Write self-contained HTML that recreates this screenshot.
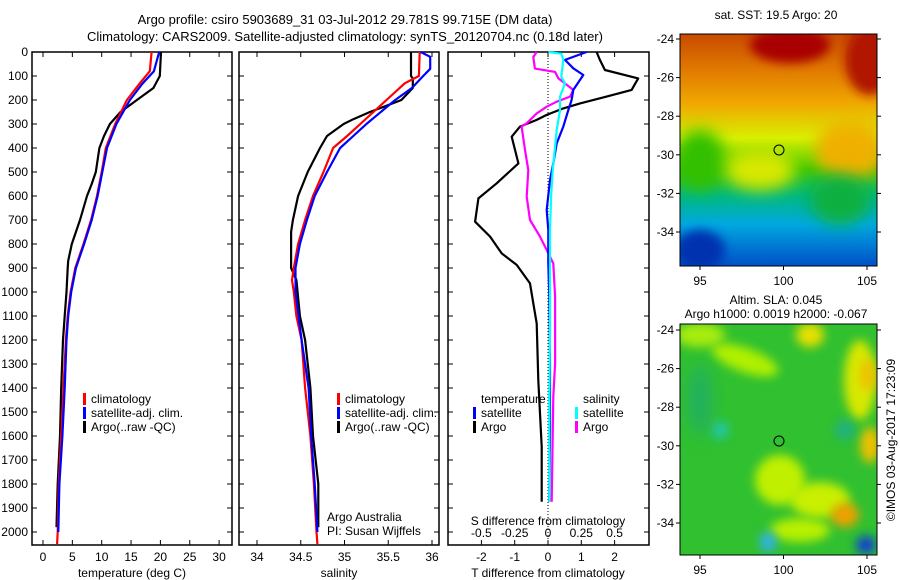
<!DOCTYPE html>
<html><head><meta charset="utf-8"><style>
body{margin:0;background:#fff}
svg{display:block;font-family:"Liberation Sans",sans-serif;font-size:12px}
</style></head><body>
<svg id="c" width="900" height="580" viewBox="0 0 900 580" xmlns="http://www.w3.org/2000/svg">
<defs>
<filter id="bl" x="-50%" y="-50%" width="200%" height="200%"><feGaussianBlur stdDeviation="8"/></filter>
<filter id="bl2" x="-50%" y="-50%" width="200%" height="200%"><feGaussianBlur stdDeviation="5"/></filter>
<clipPath id="m1c"><rect x="680" y="34" width="197" height="232"/></clipPath>
<clipPath id="m2c"><rect x="680" y="324" width="197" height="231"/></clipPath>
<linearGradient id="sstg" x1="0" y1="0" x2="0" y2="1">
<stop offset="0" stop-color="#c84a00"/><stop offset="0.15" stop-color="#e07800"/><stop offset="0.3" stop-color="#f0a800"/>
<stop offset="0.45" stop-color="#d8f000"/><stop offset="0.58" stop-color="#40c800"/><stop offset="0.7" stop-color="#00b880"/>
<stop offset="0.82" stop-color="#00a8e0"/><stop offset="1" stop-color="#0050c8"/></linearGradient>
</defs>
<text x="345" y="24" text-anchor="middle" font-size="13">Argo profile: csiro 5903689_31 03-Jul-2012 29.781S 99.715E (DM data)</text>
<text x="345" y="41" text-anchor="middle" font-size="13">Climatology: CARS2009. Satellite-adjusted climatology: synTS_20120704.nc (0.18d later)</text>

<g>
<g clip-path="url(#m1c)">
<rect x="680" y="34" width="197" height="232" fill="url(#sstg)"/>
<ellipse cx="790" cy="45" rx="40" ry="18" fill="#a80000" filter="url(#bl2)"/>
<ellipse cx="870" cy="60" rx="25" ry="35" fill="#b01800" filter="url(#bl2)"/>
<ellipse cx="850" cy="150" rx="35" ry="30" fill="#f0b000" filter="url(#bl)"/>
<ellipse cx="700" cy="160" rx="25" ry="30" fill="#30c000" filter="url(#bl)"/>
<ellipse cx="840" cy="200" rx="30" ry="25" fill="#10b040" filter="url(#bl)"/>
<ellipse cx="760" cy="170" rx="35" ry="20" fill="#d8e800" filter="url(#bl)"/>
<ellipse cx="700" cy="250" rx="25" ry="20" fill="#0030b0" filter="url(#bl2)"/>
</g>
<rect x="680" y="34" width="197" height="232" fill="none" stroke="#000"/>
<circle cx="779" cy="150" r="5" fill="none" stroke="#000"/>
<text x="776" y="19" text-anchor="middle">sat. SST: 19.5 Argo: 20</text>
</g>
<g>
<g clip-path="url(#m2c)">
<rect x="680" y="324" width="197" height="231" fill="#30c030"/>
<ellipse cx="700" cy="335" rx="25" ry="12" fill="#a8ec10" filter="url(#bl2)"/>
<ellipse cx="745" cy="360" rx="35" ry="12" fill="#b0f000" filter="url(#bl2)" transform="rotate(20 745 360)"/>
<ellipse cx="810" cy="335" rx="14" ry="12" fill="#e8e000" filter="url(#bl2)"/>
<ellipse cx="860" cy="380" rx="16" ry="40" fill="#d8e800" filter="url(#bl2)"/>
<ellipse cx="868" cy="375" rx="8" ry="16" fill="#f0c000" filter="url(#bl2)"/>
<ellipse cx="780" cy="480" rx="25" ry="25" fill="#c0f000" filter="url(#bl2)"/>
<ellipse cx="820" cy="500" rx="30" ry="18" fill="#c8f000" filter="url(#bl2)"/>
<ellipse cx="800" cy="530" rx="30" ry="12" fill="#b8f000" filter="url(#bl2)"/>
<ellipse cx="845" cy="515" rx="14" ry="12" fill="#f0a000" filter="url(#bl2)"/>
<ellipse cx="870" cy="445" rx="10" ry="18" fill="#f0c000" filter="url(#bl2)"/>
<ellipse cx="720" cy="430" rx="8" ry="9" fill="#20c8b0" filter="url(#bl2)"/>
<ellipse cx="845" cy="430" rx="10" ry="10" fill="#20b080" filter="url(#bl2)"/>
<ellipse cx="768" cy="542" rx="8" ry="10" fill="#30b0f0" filter="url(#bl2)"/>
<ellipse cx="866" cy="545" rx="10" ry="9" fill="#1040d0" filter="url(#bl2)"/>
<ellipse cx="700" cy="400" rx="12" ry="35" fill="#20b060" filter="url(#bl)"/>
</g>
<rect x="680" y="324" width="197" height="231" fill="none" stroke="#000"/>
<circle cx="779" cy="441" r="5" fill="none" stroke="#000"/>
<text x="776" y="304" text-anchor="middle">Altim. SLA: 0.045</text>
<text x="776" y="318" text-anchor="middle">Argo h1000: 0.0019 h2000: -0.067</text>
</g>
<text transform="translate(895,440) rotate(-90)" text-anchor="middle">©IMOS 03-Aug-2017 17:23:09</text>
</svg>
<script>
// ---- data ----
const depthTicks=[0,100,200,300,400,500,600,700,800,900,1000,1100,1200,1300,1400,1500,1600,1700,1800,1900,2000];
const tempTicks=[0,5,10,15,20,25,30];
const salTicks=[34,34.5,35,35.5,36];
const tdTicks=[-2,-1,0,1,2];
const sdTicks=[-0.5,-0.25,0,0.25,0.5];
const sdTickLabels=["-0.5","-0.25","0","0.25","0.5"];
const mapLatTicks=[-24,-26,-28,-30,-32,-34];
const mapLonTicks=[95,100,105];

const tClimD=[0,80,130,200,300,400,500,600,700,800,900,1000,1100,1200,1400,1600,1800,2000,2050];
const tClimV=[18.5,18.2,16.5,14.3,12.3,10.7,10.0,9.2,8.2,6.9,5.5,4.7,4.2,3.9,3.5,3.1,2.7,2.5,2.4];
const tSatD=[0,80,130,200,300,400,500,600,700,800,900,1000,1100,1200,1400,1600,1800,2000];
const tSatV=[19.8,18.9,17.0,14.8,12.5,10.9,10.1,9.3,8.3,7.0,5.6,4.8,4.3,4.0,3.7,3.3,2.8,2.6];
const tArgoD=[0,100,150,200,250,300,350,400,500,550,600,700,800,870,900,1000,1100,1200,1400,1600,1800,1980];
const tArgoV=[20.1,19.9,18.8,16.0,13.2,11.4,10.4,9.6,9.0,8.3,7.5,6.3,4.9,4.3,4.2,4.0,3.7,3.4,3.1,2.9,2.5,2.3];

const sClimD=[0,100,130,200,250,300,350,400,500,600,700,800,900,950,1000,1100,1200,1400,1600,1800,2000,2050];
const sClimV=[35.86,35.85,35.69,35.48,35.33,35.18,35.03,34.87,34.76,34.64,34.55,34.47,34.42,34.40,34.42,34.45,34.51,34.55,34.61,34.65,34.68,34.69];
const sSatD=[0,20,70,100,150,200,300,350,400,500,600,700,800,900,1000,1200,1400,1600,1800,2000];
const sSatV=[35.87,35.98,35.98,35.90,35.77,35.58,35.25,35.10,34.95,34.80,34.66,34.57,34.49,34.44,34.44,34.51,34.59,34.62,34.66,34.69];
const sArgoD=[0,100,110,150,200,250,280,300,350,400,500,600,700,750,900,950,1100,1200,1400,1600,1800,1980];
const sArgoV=[35.76,35.76,35.78,35.78,35.65,35.29,35.10,34.99,34.80,34.72,34.58,34.47,34.41,34.39,34.39,34.45,34.49,34.55,34.61,34.64,34.70,34.70];

const dTArgoD=[0,33,75,110,158,186,214,235,262,283,311,353,464,547,610,707,769,839,887,964,1047,1131,1367,1506,1644,1874];
const dTArgoV=[1.46,1.56,1.71,2.71,2.51,1.76,0.96,0.46,-0.04,-0.34,-0.84,-1.09,-0.89,-1.54,-2.09,-2.19,-1.74,-1.39,-0.94,-0.54,-0.44,-0.34,-0.29,-0.24,-0.19,-0.19];
const dTSatD=[0,33,68,96,158,200,242,311,381,464,533,658,742,881,1019,1297,1575,1874];
const dTSatV=[1.16,0.51,0.76,1.06,0.76,0.71,0.61,0.46,0.26,0.16,0.06,-0.04,0.01,0.01,0.04,0.06,0.06,0.04];
const dSSatD=[0,7,33,103,131,186,242,325,394,492,603,742,881,1158,1436,1874];
const dSSatV=[0.0025,0.1,0.115,0.10,0.128,0.09,0.09,0.065,0.053,0.035,0.023,0.015,0.015,0.015,0.01,0.01];
const dSArgoD=[0,21,69,83,110,158,186,207,228,256,297,311,408,492,603,700,769,825,881,1019,1297,1436,1874];
const dSArgoV=[-0.085,-0.11,-0.098,0.053,0.078,0.19,0.165,0.065,-0.01,-0.085,-0.16,-0.198,-0.173,-0.148,-0.16,-0.135,-0.06,-0.01,0.04,0.053,0.053,0.04,0.028];

// ---- axes ----
const NS="http://www.w3.org/2000/svg";
const svg=document.getElementById('c');
const yD=d=>52+d*0.24;
const xT=v=>43+v*5.87;
const xS=v=>257+(v-34)*87.5;
const xDT=v=>548+v*33.3;
const xDS=v=>548+v*133.2;
function el(tag,attrs,parent){const e=document.createElementNS(NS,tag);for(const k in attrs)e.setAttribute(k,attrs[k]);(parent||svg).appendChild(e);return e;}
function txt(x,y,s,anchor,parent){const t=el('text',{x:x,y:y,'text-anchor':anchor||'middle'},parent);t.textContent=s;return t;}

const panels=[{x0:32,x1:232,name:'temperature-panel'},{x0:239,x1:439,name:'salinity-panel'},{x0:448,x1:649,name:'difference-panel'}];
const pg=[];
panels.forEach(p=>{
  const g=el('g',{});
  
  
  el('rect',{x:p.x0,y:52,width:p.x1-p.x0,height:493,fill:'none',stroke:'#000','stroke-width':1.5},g);
  depthTicks.forEach(d=>{
    el('line',{x1:p.x0,x2:p.x0+5,y1:yD(d),y2:yD(d),stroke:'#000'},g);
    el('line',{x1:p.x1-5,x2:p.x1,y1:yD(d),y2:yD(d),stroke:'#000'},g);
  });
  pg.push(g);
});
const yl=el('g',{});


depthTicks.forEach(d=>{txt(28,yD(d)+4,String(d),'end',yl);});

function xticks(g,ticks,fx,labels,y){ticks.forEach((t,i)=>{
  el('line',{x1:fx(t),x2:fx(t),y1:545,y2:540,stroke:'#000'},g);
  el('line',{x1:fx(t),x2:fx(t),y1:52,y2:57,stroke:'#000'},g);
  txt(fx(t),y,labels?labels[i]:String(t),'middle',g);});}
xticks(pg[0],tempTicks,xT,null,561);
xticks(pg[1],salTicks,xS,null,561);
xticks(pg[2],tdTicks,xDT,null,561);
sdTicks.forEach((t,i)=>{txt(xDS(t),537,sdTickLabels[i],'middle',pg[2]);});
const a1=txt(132,577,'temperature (deg C)','middle',pg[0]);
const a2=txt(339,577,'salinity','middle',pg[1]);
const a3=txt(548,577,'T difference from climatology','middle',pg[2]);
const a4=txt(548,525,'S difference from climatology','middle',pg[2]);
el('line',{x1:548,x2:548,y1:52,y2:545,stroke:'#000','stroke-dasharray':'1,2'},pg[2]);

function line(g,D,V,fx,color,name){
  const pts=D.map((d,i)=>fx(V[i]).toFixed(1)+','+yD(d).toFixed(1)).join(' ');
  const pl=el('polyline',{points:pts,fill:'none',stroke:color,'stroke-width':2.2,'stroke-linejoin':'round'},g);
  
  
}
line(pg[0],tArgoD,tArgoV,xT,'#000','temp-argo-line');
line(pg[0],tClimD,tClimV,xT,'#f00','temp-climatology-line');
line(pg[0],tSatD,tSatV,xT,'#00f','temp-satellite-line');
line(pg[1],sArgoD,sArgoV,xS,'#000','sal-argo-line');
line(pg[1],sClimD,sClimV,xS,'#f00','sal-climatology-line');
line(pg[1],sSatD,sSatV,xS,'#00f','sal-satellite-line');
line(pg[2],dTArgoD,dTArgoV,xDT,'#000','tdiff-argo-line');
line(pg[2],dSArgoD,dSArgoV,xDS,'#f0f','sdiff-argo-line');
line(pg[2],dTSatD,dTSatV,xDT,'#00f','tdiff-satellite-line');
line(pg[2],dSSatD,dSSatV,xDS,'#0ff','sdiff-satellite-line');

function legend(g,x,y,color,label){
  const lg=el('g',{},g);
  
  
  el('rect',{x:x,y:y-10,width:3,height:12,fill:color},lg);
  txt(x+8,y,label,'start',lg);
}
legend(pg[0],83,403,'#f00','climatology');
legend(pg[0],83,417,'#00f','satellite-adj. clim.');
legend(pg[0],83,431,'#000','Argo(..raw -QC)');
legend(pg[1],337,403,'#f00','climatology');
legend(pg[1],337,417,'#00f','satellite-adj. clim.');
legend(pg[1],337,431,'#000','Argo(..raw -QC)');
txt(327,521,'Argo Australia','start',pg[1]);
txt(327,535,'PI: Susan Wijffels','start',pg[1]);
txt(481,403,'temperature','start',pg[2]);
legend(pg[2],473,417,'#00f','satellite');
legend(pg[2],473,431,'#000','Argo');
txt(583,403,'salinity','start',pg[2]);
legend(pg[2],575,417,'#0ff','satellite');
legend(pg[2],575,431,'#f0f','Argo');

// map axes
[[34,266,39],[324,555,330]].forEach((m,mi)=>{
  const g=el('g',{});
  
  
  mapLatTicks.forEach(l=>{const y=m[2]+(-24-l)*19.3;
    el('line',{x1:680,x2:676,y1:y,y2:y,stroke:'#000'},g);
    el('line',{x1:877,x2:881,y1:y,y2:y,stroke:'#000'},g);
    txt(674,y+4,String(l),'end',g);});
  mapLonTicks.forEach(l=>{const x=700+(l-95)*16.7;
    el('line',{x1:x,x2:x,y1:m[1],y2:m[1]+4,stroke:'#000'},g);
    txt(x,m[1]+19,String(l),'middle',g);});
});
</script>
</body></html>
